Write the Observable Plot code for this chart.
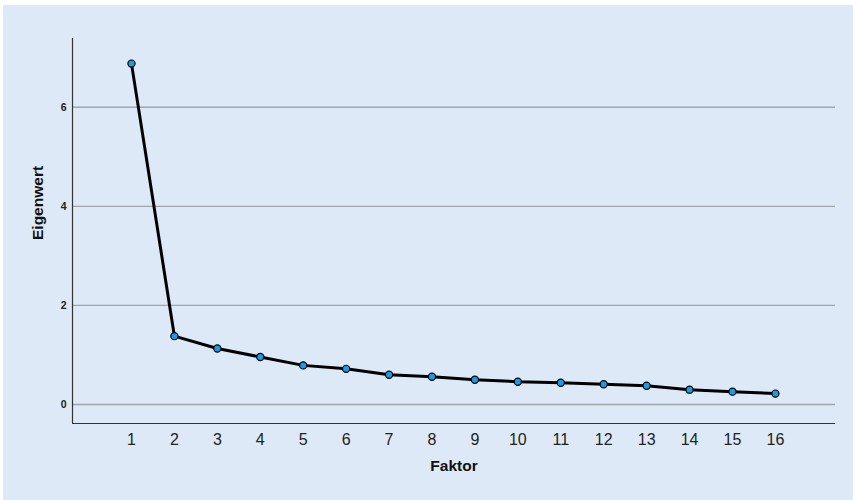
<!DOCTYPE html>
<html>
<head>
<meta charset="utf-8">
<script src="https://cdn.jsdelivr.net/npm/d3@7"></script>
<script src="https://cdn.jsdelivr.net/npm/@observablehq/plot@0.6"></script>
<style>
  html, body { margin: 0; padding: 0; background: #ffffff; overflow: hidden; }
  #chart { width: 853px; height: 500px; box-sizing: border-box; background: #dde9f6;
           border-top: 5px solid #ffffff; border-left: 3px solid #ffffff; }
  #chart svg { display: block; max-width: none; }
</style>
</head>
<body>
<div id="chart"></div>
<script>
const faktor = [1, 2, 3, 4, 5, 6, 7, 8, 9, 10, 11, 12, 13, 14, 15, 16];
const eigenwert = [6.88, 1.38, 1.13, 0.96, 0.79, 0.72, 0.60, 0.56, 0.50, 0.46, 0.44, 0.41, 0.38, 0.30, 0.26, 0.22];
const yTicks = [0, 2, 4, 6];
const xTicks = faktor;
const xLabel = "Faktor";
const yLabel = "Eigenwert";

const xDomain = [-0.374, 17.4];
const yDomain = [-0.383, 7.387];

const data = faktor.map((f, i) => ({ faktor: f, eigenwert: eigenwert[i] }));

const plot = Plot.plot({
  width: 850,
  height: 495,
  marginLeft: 69,
  marginRight: 18,
  marginTop: 33,
  marginBottom: 77,
  style: { background: "#dde9f6", fontFamily: "'Liberation Sans', Arial, sans-serif", color: "#222" },
  x: { domain: xDomain },
  y: { domain: yDomain },
  marks: [
    Plot.ruleY(yTicks, { stroke: "#9ea5ab", strokeWidth: 1.3 }),
    Plot.ruleX([xDomain[0]], { stroke: "#333", strokeWidth: 1.2 }),
    Plot.ruleY([yDomain[0]], { stroke: "#333", strokeWidth: 1.2 }),
    Plot.axisY({ ticks: yTicks, tickSize: 0, tickPadding: 6, fontSize: 10.5, fontWeight: "bold", label: null }),
    Plot.axisX({ ticks: xTicks, tickSize: 0, tickPadding: 10, fontSize: 16, label: null, tickFormat: d => String(d) }),
    Plot.line(data, { x: "faktor", y: "eigenwert", stroke: "#000", strokeWidth: 3, strokeLinejoin: "round" }),
    Plot.dot(data, { x: "faktor", y: "eigenwert", r: 3.6, fill: "#1a9be6", stroke: "#000", strokeWidth: 1.2 }),
    Plot.text([yLabel], { frameAnchor: "left", rotate: -90, dx: -34, dy: 9, fontSize: 15.5, fontWeight: "bold", fill: "#111" }),
    Plot.text([xLabel], { frameAnchor: "bottom", dy: 47, fontSize: 15.5, fontWeight: "bold", fill: "#111" })
  ]
});
document.getElementById("chart").appendChild(plot);
</script>
</body>
</html>
